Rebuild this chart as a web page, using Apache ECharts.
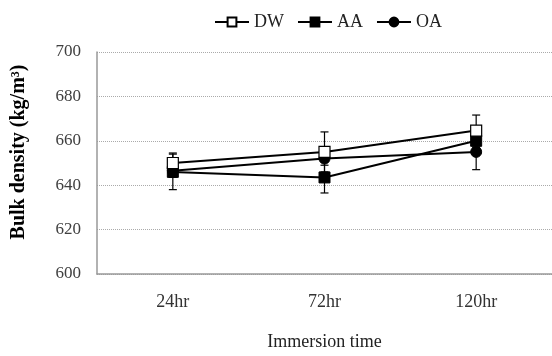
<!DOCTYPE html>
<html>
<head>
<meta charset="utf-8">
<script src="https://cdn.jsdelivr.net/npm/echarts@6/dist/echarts.min.js"></script>
<style>
  html, body { margin: 0; padding: 0; background: #fff; }
  #chart { width: 552px; height: 356px; }
</style>
</head>
<body>
<div id="chart"></div>
<script>
    // values
    var categories = ['24hr', '72hr', '120hr'];
    var dwValues = [650, 655, 664.6];
    var aaValues = [646, 643.5, 660];
    var oaValues = [646.5, 652, 655];
    // error (+/-) for each series
    var dwErr = [4.5, 9, 7];
    var aaErr = [8, 7, 3];
    var oaErr = [3, 3, 8];
    var yTicks = [600, 620, 640, 660, 680, 700];

    var serif = 'Liberation Serif';
    var myChart = echarts.init(document.getElementById('chart'));

    function errData(values, errs) {
        var out = [];
        for (var i = 0; i < values.length; i++) {
            out.push([i, values[i] - errs[i], values[i] + errs[i]]);
        }
        return out;
    }

    function renderErr(params, api) {
        var x = api.value(0);
        var lo = api.coord([x, api.value(1)]);
        var hi = api.coord([x, api.value(2)]);
        var cap = 4;
        var st = { stroke: '#000', lineWidth: 1.2 };
        return {
            type: 'group',
            children: [
                { type: 'line', shape: { x1: hi[0], y1: hi[1], x2: lo[0], y2: lo[1] }, style: st },
                { type: 'line', shape: { x1: hi[0] - cap, y1: hi[1], x2: hi[0] + cap, y2: hi[1] }, style: st },
                { type: 'line', shape: { x1: lo[0] - cap, y1: lo[1], x2: lo[0] + cap, y2: lo[1] }, style: st }
            ]
        };
    }

    var lineStyle = { color: '#000', width: 2 };

    var option = {
        animation: false,
        legend: {
            top: 8,
            left: 209,
            itemWidth: 34,
            itemHeight: 11,
            itemGap: 13,
            textStyle: { fontFamily: serif, fontSize: 18, color: '#222' },
            data: ['DW', 'AA', 'OA']
        },
        grid: { left: 97, top: 52, width: 456, height: 223 },
        graphic: [{
            type: 'text',
            x: 19, y: 152,
            rotation: Math.PI / 2,
            style: {
                text: 'Bulk density (kg/m³)',
                font: 'bold 20px "Liberation Serif"',
                fill: '#000',
                align: 'center',
                verticalAlign: 'middle'
            }
        }],
        xAxis: {
            type: 'category',
            data: categories,
            name: 'Immersion time',
            nameLocation: 'middle',
            nameGap: 59,
            nameTextStyle: { fontFamily: serif, fontSize: 18, color: '#222' },
            axisLine: { lineStyle: { color: '#999', width: 1.5 } },
            axisTick: { inside: true, length: 5, lineStyle: { color: '#999' } },
            axisLabel: { fontFamily: serif, fontSize: 18, color: '#333', margin: 19 },
            splitLine: { show: false }
        },
        yAxis: {
            type: 'value',
            min: yTicks[0],
            max: yTicks[yTicks.length - 1],
            interval: 20,
            axisLine: { show: true, lineStyle: { color: '#999', width: 1.5 } },
            axisTick: { show: false },
            axisLabel: { fontFamily: serif, fontSize: 17, color: '#404040', margin: 16 },
            splitLine: { lineStyle: { color: '#aaa', type: 'dotted', width: 1 } }
        },
        series: [
            {
                name: 'DW', type: 'line', data: dwValues, z: 5,
                symbol: 'rect', symbolSize: 11,
                itemStyle: { color: '#fff', borderColor: '#000', borderWidth: 1.2 },
                lineStyle: lineStyle
            },
            {
                name: 'AA', type: 'line', data: aaValues, z: 4,
                symbol: 'rect', symbolSize: 11,
                itemStyle: { color: '#000', borderColor: '#000', borderWidth: 1 },
                lineStyle: lineStyle
            },
            {
                name: 'OA', type: 'line', data: oaValues, z: 3,
                symbol: 'circle', symbolSize: 11,
                itemStyle: { color: '#000', borderColor: '#000', borderWidth: 1 },
                lineStyle: lineStyle
            },
            { type: 'custom', renderItem: renderErr, data: errData(dwValues, dwErr), z: 1, silent: true },
            { type: 'custom', renderItem: renderErr, data: errData(aaValues, aaErr), z: 1, silent: true },
            { type: 'custom', renderItem: renderErr, data: errData(oaValues, oaErr), z: 1, silent: true }
        ]
    };

    myChart.setOption(option);
</script>
</body>
</html>
